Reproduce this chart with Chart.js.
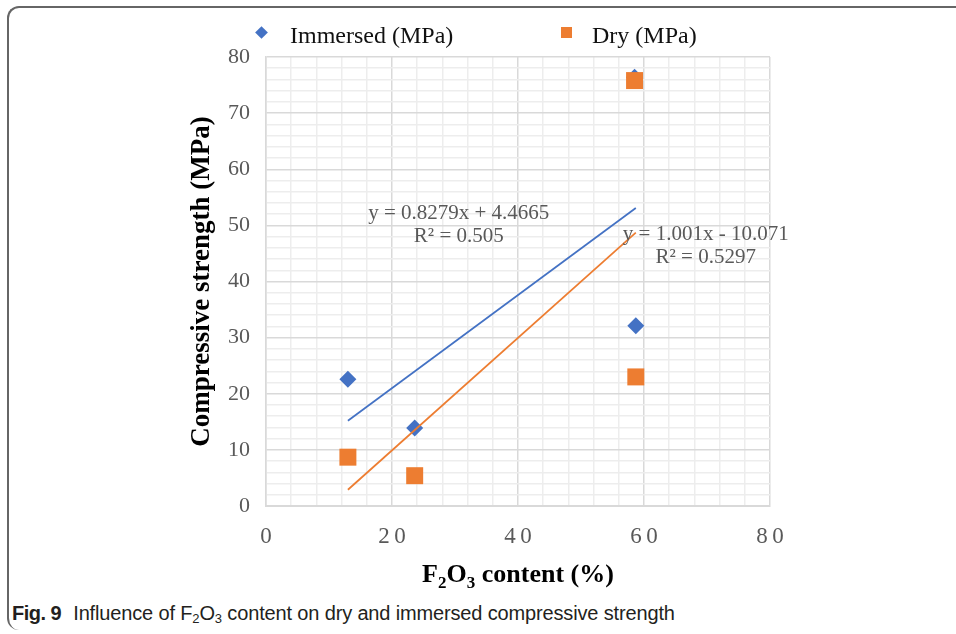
<!DOCTYPE html>
<html>
<head>
<meta charset="utf-8">
<script src="https://cdn.jsdelivr.net/npm/chart.js@4/dist/chart.umd.min.js"></script>
<style>
  html, body { margin: 0; padding: 0; background: #fff; }
  body { width: 956px; height: 634px; position: relative; overflow: hidden; }
  .frame { position: absolute; left: 7px; top: 6px; width: 980px; height: 622px;
           border-top: 2px solid #666; border-left: 2px solid #666;
           border-top-left-radius: 12px; border-bottom-left-radius: 12px; }
  #wrap { position: absolute; left: 0; top: 0; width: 956px; height: 560px; }
  .legend-text { position: absolute; top: 21px; font: 24px "Liberation Serif", "Times New Roman", serif;
                 line-height: 28px; color: #111; white-space: nowrap; }
  .diamond { position: absolute; left: 257px; top: 28px; width: 9px; height: 9px;
             background: #4472C4; transform: rotate(45deg); }
  .square { position: absolute; left: 561px; top: 27px; width: 11px; height: 11px; background: #ED7D31; }
  .xtitle { position: absolute; left: 318px; top: 559px; width: 400px; text-align: center;
            font: bold 26px "Liberation Serif", "Times New Roman", serif; line-height: 30px; color: #000; }
  .xtitle sub { font-size: 17px; vertical-align: -6px; line-height: 0; }
  .caption { position: absolute; left: 12px; top: 601px; white-space: nowrap; letter-spacing: -0.15px;
             font: 20px "Liberation Sans", sans-serif; line-height: 24px; color: #231F20; }
  .caption b { margin-right: 12px; letter-spacing: -0.5px; }
  .caption sub { font-size: 13px; vertical-align: -3px; line-height: 0; }
</style>
</head>
<body>
<div class="frame"></div>
<div id="wrap"><canvas id="chart" width="956" height="560"></canvas></div>
<div class="diamond"></div>
<div class="legend-text" style="left:290px">Immersed (MPa)</div>
<div class="square"></div>
<div class="legend-text" style="left:592px">Dry (MPa)</div>
<div class="xtitle">F<sub>2</sub>O<sub>3</sub> content (%)</div>
<div class="caption"><b>Fig. 9</b>Influence of F<sub>2</sub>O<sub>3</sub> content on dry and immersed compressive strength</div>

<script>
// values
const contentX = [13.0, 23.6, 58.7, 58.5];
const immersedY = [22.6, 13.9, 32.1, 76.4];
const dryY = [8.7, 5.4, 23.0, 75.8];

// fitted lines as drawn (end points)
const trendX = [13.0, 58.7];
const immersedTrendY = [15.2, 53.1];
const dryTrendY = [2.9, 48.7];

const immersedEq = ['y = 0.8279x + 4.4665', 'R\u00B2 = 0.505'];
const dryEq = ['y = 1.001x - 10.071', 'R\u00B2 = 0.5297'];

const xTicksMajor = 20;
const yTicksMajor = 10;

const BLUE = '#4472C4';
const ORANGE = '#ED7D31';
const GRID_MAJOR = '#D9D9D9';
const GRID_MINOR = '#EDEDED';
const TEXT_GRAY = '#595959';
const SERIF = '"Liberation Serif", "Times New Roman", serif';

function points(xs, ys) {
    return xs.map(function(x, i) { return { x: x, y: ys[i] }; });
}

// equation labels, anchored in data units
const eqLabels = {
    id: 'eqLabels',
    afterDatasetsDraw: function(chart) {
        const ctx = chart.ctx;
        const xs = chart.scales.x, ys = chart.scales.y;
        const items = [
            { x: 30.6, y: 50.0, lines: immersedEq },
            { x: 69.8, y: 46.3, lines: dryEq }
        ];
        ctx.save();
        ctx.font = '21px ' + SERIF;
        ctx.fillStyle = TEXT_GRAY;
        ctx.textAlign = 'center';
        ctx.textBaseline = 'middle';
        items.forEach(function(it) {
            const px = xs.getPixelForValue(it.x);
            const py = ys.getPixelForValue(it.y);
            ctx.fillText(it.lines[0], px, py - 11.5);
            ctx.fillText(it.lines[1], px, py + 11.5);
        });
        ctx.restore();
    }
};

new Chart(document.getElementById('chart'), {
    type: 'scatter',
    data: {
        datasets: [
            {
                label: 'Immersed trend',
                data: points(trendX, immersedTrendY),
                showLine: true,
                borderColor: BLUE,
                borderWidth: 1.75,
                pointRadius: 0,
                order: 0
            },
            {
                label: 'Dry trend',
                data: points(trendX, dryTrendY),
                showLine: true,
                borderColor: ORANGE,
                borderWidth: 1.75,
                pointRadius: 0,
                order: 0
            },
            {
                label: 'Dry (MPa)',
                data: points(contentX, dryY),
                pointStyle: 'rect',
                pointRadius: 12,
                backgroundColor: ORANGE,
                borderColor: ORANGE,
                borderWidth: 0,
                order: 1
            },
            {
                label: 'Immersed (MPa)',
                data: points(contentX, immersedY),
                pointStyle: 'rectRot',
                pointRadius: 8.5,
                backgroundColor: BLUE,
                borderColor: BLUE,
                borderWidth: 0,
                order: 2
            }
        ]
    },
    options: {
        responsive: false,
        animation: false,
        devicePixelRatio: 1,
        layout: { padding: { left: 186, right: 186, top: 57, bottom: 4 } },
        plugins: {
            legend: { display: false },
            tooltip: { enabled: false }
        },
        scales: {
            x: {
                min: 0,
                max: 80,
                afterFit: function(scale) { scale.height = 50; },
                grid: {
                    drawTicks: false,
                    lineWidth: 1.5,
                    color: function(c) { return c.tick && c.tick.value % xTicksMajor === 0 ? GRID_MAJOR : GRID_MINOR; }
                },
                border: { display: true, color: GRID_MAJOR, width: 2 },
                ticks: {
                    stepSize: 4,
                    autoSkip: false,
                    maxRotation: 0,
                    padding: 17,
                    color: TEXT_GRAY,
                    font: { family: SERIF, size: 23 },
                    callback: function(v) {
                        return v % xTicksMajor === 0 ? String(v).split('').join('\u2009') : '';
                    }
                }
            },
            y: {
                min: 0,
                max: 80,
                afterFit: function(scale) { scale.width = 80; },
                grid: {
                    drawTicks: false,
                    lineWidth: 1.5,
                    color: function(c) { return c.tick && c.tick.value % yTicksMajor === 0 ? GRID_MAJOR : GRID_MINOR; }
                },
                border: { display: true, color: GRID_MAJOR, width: 1.5 },
                ticks: {
                    stepSize: 2,
                    autoSkip: false,
                    padding: 16,
                    color: TEXT_GRAY,
                    font: { family: SERIF, size: 22 },
                    callback: function(v) { return v % yTicksMajor === 0 ? String(v) : ''; }
                },
                title: {
                    display: true,
                    text: 'Compressive strength (MPa)',
                    color: '#000',
                    padding: 0,
                    font: { family: SERIF, size: 27, weight: 'bold' }
                }
            }
        }
    },
    plugins: [eqLabels]
});
</script>
</body>
</html>
